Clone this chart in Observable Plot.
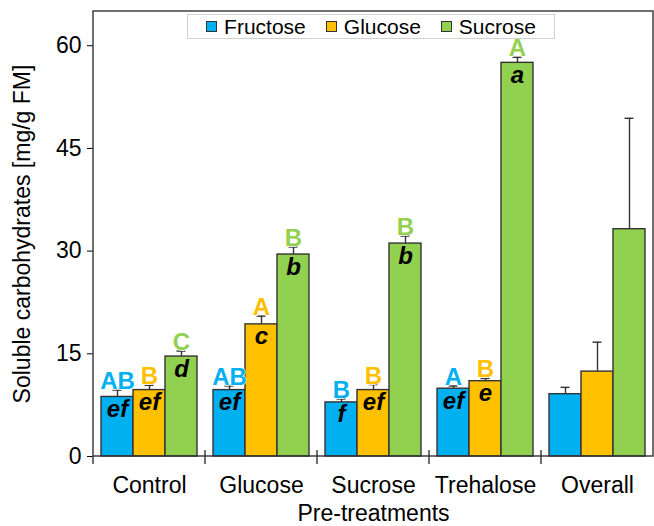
<!DOCTYPE html>
<html>
<head>
<meta charset="utf-8">
<script src="https://cdn.jsdelivr.net/npm/d3@7"></script>
<script src="https://cdn.jsdelivr.net/npm/@observablehq/plot@0.6"></script>
<style>
  html, body { margin: 0; padding: 0; background: #fff; }
  #wrap { position: relative; width: 654px; height: 526px; font-family: "Liberation Sans", Arial, sans-serif; }
  #legend { position: absolute; left: 187px; top: 14px; width: 368px; height: 25px; border: 1px solid #d0d0d0; background: #fff;
            display: flex; align-items: center; justify-content: center; gap: 20px; font-size: 21px; color: #000; box-sizing: border-box; }
  #legend .item { display: flex; align-items: center; gap: 7px; }
  #legend .sw { width: 11px; height: 11px; border: 1px solid #333; box-sizing: border-box; }
  g[aria-label="fx-axis tick label"] text { font-size: 23px; }
  g[aria-label="fx-axis label"] text { font-size: 23px; }
  g[aria-label="y-axis label"] text { font-size: 23px; }
  g[aria-label="y-axis tick label"] text { font-size: 23px; }
</style>
</head>
<body>
<div id="wrap"></div>
<script>
const groups = ["Control", "Glucose", "Sucrose", "Trehalose", "Overall"];
const sugars = ["Fructose", "Glucose", "Sucrose"];
const colors = ["#00B0F0", "#FFC000", "#92D050"];
const yTicks = [0, 15, 30, 45, 60];

const fructose = [8.7, 9.7, 7.9, 9.9, 9.1];
const glucose  = [9.7, 19.3, 9.7, 11.0, 12.4];
const sucrose  = [14.6, 29.5, 31.1, 57.5, 33.2];

const fructoseErr = [1.0, 0.6, 0.5, 0.4, 1.0];
const glucoseErr  = [0.7, 1.2, 0.8, 0.4, 4.3];
const sucroseErr  = [0.8, 1.1, 1.1, 0.8, 16.2];

const fructoseUpper = ["AB", "AB", "B", "A", ""];
const glucoseUpper  = ["B", "A", "B", "B", ""];
const sucroseUpper  = ["C", "B", "B", "A", ""];

const fructoseLower = ["ef", "ef", "f", "ef", ""];
const glucoseLower  = ["ef", "c", "ef", "e", ""];
const sucroseLower  = ["d", "b", "b", "a", ""];

const series = [fructose, glucose, sucrose];
const errs = [fructoseErr, glucoseErr, sucroseErr];
const uppers = [fructoseUpper, glucoseUpper, sucroseUpper];
const lowers = [fructoseLower, glucoseLower, sucroseLower];

const data = groups.flatMap((g, i) => sugars.map((s, j) => ({
  group: g, sugar: s, value: series[j][i], top: series[j][i] + errs[j][i],
  up: uppers[j][i], low: lowers[j][i]
})));

const chart = Plot.plot({
  width: 654,
  height: 526,
  marginLeft: 93,
  marginRight: 1,
  marginTop: 11,
  marginBottom: 70,
  style: { fontFamily: "Liberation Sans, Arial, sans-serif", fontSize: "22px", color: "#000", background: "#fff" },
  fx: { domain: groups, padding: 0, label: "Pre-treatments", labelAnchor: "center", tickSize: 0, tickPadding: 20, labelOffset: 64 },
  x: { domain: sugars, paddingInner: 0, paddingOuter: 0.25, axis: null },
  y: { domain: [0, 65], ticks: yTicks, tickSize: 6, tickPadding: 6, label: "Soluble carbohydrates [mg/g FM]", labelArrow: "none", labelAnchor: "center", labelOffset: 80 },
  color: { domain: sugars, range: colors },
  marks: [
    Plot.barY(data, { fx: "group", x: "sugar", y: "value", fill: "sugar", stroke: "#333", strokeWidth: 1.4 }),
    Plot.ruleX(data, { fx: "group", x: "sugar", y1: "value", y2: "top", stroke: "#333", strokeWidth: 1.4 }),
    Plot.tickY(data, { fx: "group", x: "sugar", y: "top", stroke: "#333", strokeWidth: 1.4, insetLeft: 11.5, insetRight: 11.5 }),
    Plot.text(data.filter(d => d.up), { fx: "group", x: "sugar", y: "top", text: "up", fill: "sugar", lineAnchor: "bottom", dy: -1,
      fontWeight: "bold", fontSize: 24, stroke: "white", strokeWidth: 1.5 }),
    Plot.text(data.filter(d => d.low), { fx: "group", x: "sugar", y: "value", text: "low", fill: "black", lineAnchor: "top", dy: 3,
      fontWeight: "bold", fontStyle: "italic", fontSize: 24 })
  ]
});

// strip any direction arrow from the y label
d3.select(chart).selectAll('g[aria-label="y-axis label"] text').text(function () { return this.textContent.replace(/\s*[↑→←↓]\s*/g, ""); });

// outer frame and category boundary ticks, positioned from Plot's own scales
const fxS = chart.scale("fx");
const yS = chart.scale("y");
const svg = d3.select(chart);
const x0 = fxS.apply(groups[0]);
const x1 = fxS.apply(groups[groups.length - 1]) + fxS.bandwidth;
const yb = yS.apply(0), yt = yS.apply(65);
svg.append("rect").attr("x", x0).attr("y", yt).attr("width", x1 - x0).attr("height", yb - yt)
  .attr("fill", "none").attr("stroke", "#333").attr("stroke-width", 1.4);
svg.append("g").selectAll("line").data(groups.slice(1)).join("line")
  .attr("x1", g => fxS.apply(g)).attr("x2", g => fxS.apply(g))
  .attr("y1", yb - 6).attr("y2", yb + 8).attr("stroke", "#333").attr("stroke-width", 1.4);
svg.append("line").attr("x1", x0).attr("x2", x0).attr("y1", yb).attr("y2", yb + 8).attr("stroke", "#333").attr("stroke-width", 1.4);

const wrap = document.getElementById("wrap");
wrap.appendChild(chart);

const legend = document.createElement("div");
legend.id = "legend";
sugars.forEach((s, j) => {
  const it = document.createElement("div");
  it.className = "item";
  const sw = document.createElement("div");
  sw.className = "sw";
  sw.style.background = colors[j];
  const t = document.createElement("span");
  t.textContent = s;
  it.appendChild(sw); it.appendChild(t);
  legend.appendChild(it);
});
wrap.appendChild(legend);
</script>
</body>
</html>
